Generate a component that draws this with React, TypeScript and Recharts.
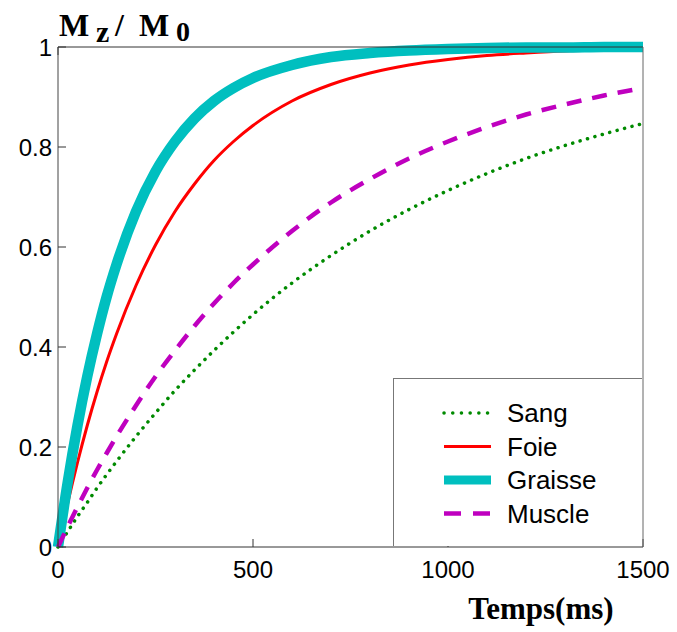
import { LineChart, Line, XAxis, YAxis, Legend } from "recharts";

// readings, time in ms
const times = [0, 25, 50, 75, 100, 125, 150, 200, 250, 300, 350, 400, 450, 500, 600, 700, 800, 900, 1000, 1100, 1200, 1300, 1400, 1500];
const sang = [0, 0.031, 0.061, 0.089, 0.118, 0.145, 0.171, 0.221, 0.268, 0.313, 0.354, 0.393, 0.43, 0.465, 0.528, 0.583, 0.632, 0.675, 0.713, 0.747, 0.777, 0.803, 0.826, 0.847];
const foie = [0, 0.088, 0.169, 0.243, 0.31, 0.371, 0.426, 0.523, 0.604, 0.671, 0.726, 0.773, 0.811, 0.843, 0.892, 0.925, 0.948, 0.964, 0.975, 0.983, 0.988, 0.992, 0.994, 0.996];
const graisse = [0, 0.13, 0.243, 0.341, 0.426, 0.501, 0.565, 0.671, 0.751, 0.811, 0.857, 0.892, 0.918, 0.938, 0.964, 0.98, 0.988, 0.993, 0.996, 0.998, 0.999, 0.999, 1.0, 1.0];
const muscle = [0, 0.041, 0.08, 0.118, 0.154, 0.188, 0.221, 0.283, 0.341, 0.393, 0.442, 0.487, 0.528, 0.565, 0.632, 0.689, 0.736, 0.777, 0.811, 0.84, 0.865, 0.885, 0.903, 0.918];

const xTicks = [0, 500, 1000, 1500];
const yTicks = [0, 0.2, 0.4, 0.6, 0.8, 1];

const series = [
    { key: "sang", name: "Sang", color: "#008a00", width: 3.5, dash: "0.1 7.6", legendDash: "0.1 8.6", cap: "round" },
    { key: "foie", name: "Foie", color: "#ff0000", width: 3, dash: undefined, legendDash: undefined, cap: "butt" },
    { key: "graisse", name: "Graisse", color: "#00bfbf", width: 10.5, dash: undefined, legendDash: undefined, cap: "butt" },
    { key: "muscle", name: "Muscle", color: "#bf00bf", width: 4.5, dash: "15 11", legendDash: "17 12", cap: "butt" },
];

const data = times.map((t, i) => ({
    t,
    sang: sang[i],
    foie: foie[i],
    graisse: graisse[i],
    muscle: muscle[i],
}));

const tickFont = { fontFamily: "Liberation Sans, Arial, sans-serif", fontSize: 24, fill: "#000" };
const serif = "Liberation Serif, Times New Roman, serif";

function LegendBox() {
    return (
        <div
            style={{
                width: 249,
                height: 168,
                background: "#fff",
                borderTop: "1px solid #777",
                borderLeft: "1px solid #777",
                boxSizing: "border-box",
            }}
        >
            <svg width={249} height={168}>
                {series.map((s, i) => {
                    const y = 34 + i * 33.5;
                    return (
                        <g key={s.key}>
                            <line
                                x1={50}
                                x2={97}
                                y1={y}
                                y2={y}
                                stroke={s.color}
                                strokeWidth={s.key === "graisse" ? 9 : s.width}
                                strokeDasharray={s.legendDash}
                                strokeLinecap={s.cap as any}
                            />
                            <text
                                x={113}
                                y={y + 9}
                                fontFamily="Liberation Sans, Arial, sans-serif"
                                fontSize={26}
                                fill="#000"
                            >
                                {s.name}
                            </text>
                        </g>
                    );
                })}
            </svg>
        </div>
    );
}

export default function App() {
    return (
        <div style={{ position: "absolute", left: 0, top: 0, width: 677, height: 632, background: "#fff" }}>
            <LineChart
                width={677}
                height={632}
                data={data}
                margin={{ top: 37, right: 24, bottom: 45, left: 8 }}
            >
                <XAxis
                    dataKey="t"
                    type="number"
                    domain={[0, 1500]}
                    ticks={xTicks}
                    height={40}
                    tickSize={-8}
                    tickMargin={22}
                    tick={tickFont}
                    axisLine={{ stroke: "#333" }}
                    tickLine={{ stroke: "#333" }}
                />
                <XAxis
                    xAxisId="top"
                    orientation="top"
                    type="number"
                    domain={[0, 1500]}
                    ticks={xTicks}
                    height={10}
                    tickSize={-8}
                    tickFormatter={() => ""}
                    axisLine={{ stroke: "#333" }}
                    tickLine={{ stroke: "#333" }}
                />
                <YAxis
                    type="number"
                    domain={[0, 1]}
                    ticks={yTicks}
                    width={50}
                    tickSize={-8}
                    tickMargin={14}
                    tick={tickFont}
                    tickFormatter={(v) => String(v)}
                    axisLine={{ stroke: "#444" }}
                    tickLine={{ stroke: "#333" }}
                />
                <YAxis
                    yAxisId="right"
                    orientation="right"
                    type="number"
                    domain={[0, 1]}
                    ticks={yTicks}
                    width={10}
                    tickSize={-8}
                    tickFormatter={() => ""}
                    axisLine={{ stroke: "#666" }}
                    tickLine={{ stroke: "#333" }}
                />

                {series.map((s) => (
                    <Line
                        key={s.key}
                        type="monotone"
                        dataKey={s.key}
                        name={s.name}
                        stroke={s.color}
                        strokeWidth={s.width}
                        strokeDasharray={s.dash}
                        strokeLinecap={s.cap as any}
                        dot={false}
                        activeDot={false}
                        isAnimationActive={false}
                    />
                ))}

                <Legend
                    layout="vertical"
                    align="center"
                    verticalAlign="middle"
                    content={() => <LegendBox />}
                    wrapperStyle={{ left: 393, top: 378, width: 249, height: 168 }}
                />
            </LineChart>

            {/* y title: Mz / M0 */}
            <div style={{ position: "absolute", left: 0, top: 0, fontFamily: serif, fontWeight: "bold", color: "#000" }}>
                <span style={{ position: "absolute", left: 59, top: 9, fontSize: 32, lineHeight: "32px" }}>M</span>
                <span style={{ position: "absolute", left: 96, top: 17, fontSize: 30, lineHeight: "30px" }}>z</span>
                <span style={{ position: "absolute", left: 115, top: 9, fontSize: 32, lineHeight: "32px" }}>/</span>
                <span style={{ position: "absolute", left: 139, top: 9, fontSize: 32, lineHeight: "32px" }}>M</span>
                <span style={{ position: "absolute", left: 176, top: 18, fontSize: 28, lineHeight: "28px" }}>0</span>
            </div>

            {/* x title */}
            <div
                style={{
                    position: "absolute",
                    left: 441,
                    top: 593,
                    width: 200,
                    textAlign: "center",
                    fontFamily: serif,
                    fontWeight: "bold",
                    fontSize: 31,
                    lineHeight: "31px",
                    color: "#000",
                }}
            >
                Temps(ms)
            </div>
        </div>
    );
}
